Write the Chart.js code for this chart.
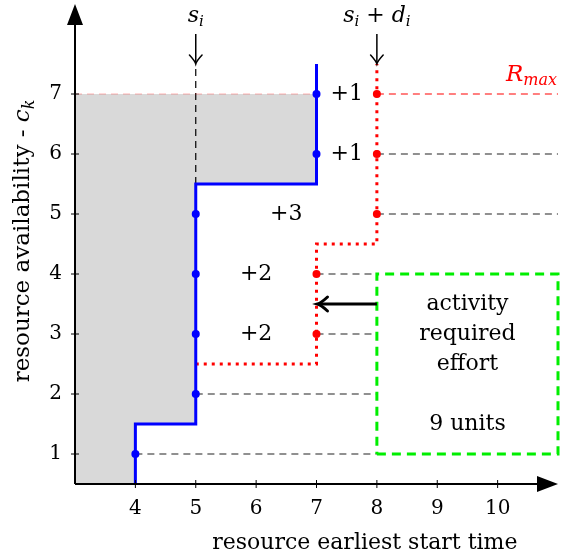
<!DOCTYPE html>
<html>
<head>
<meta charset="utf-8">
<script src="https://cdn.jsdelivr.net/npm/chart.js@4.4.1/dist/chart.umd.min.js"></script>
<style>
  html, body { margin: 0; padding: 0; background: #fff; }
  #wrap { width: 575px; height: 558px; }
</style>
</head>
<body>
<div id="wrap"><canvas id="chart"></canvas></div>
<script>
// axis ticks
const xTicks = [4, 5, 6, 7, 8, 9, 10];
const yTicks = [1, 2, 3, 4, 5, 6, 7];

// resource availability profile (blue step) and its sample points
const blueStepX = [4, 4, 5, 5, 7, 7];
const blueStepY = [0.5, 1.5, 1.5, 5.5, 5.5, 7.5];
const bluePointX = [4, 5, 5, 5, 5, 7, 7];
const bluePointY = [1, 2, 3, 4, 5, 6, 7];

// shaded (used) area, bounded by blue step up to Rmax
const usedEdgeX = [4, 4, 5, 5, 7, 7];
const usedEdgeY = [0.5, 1.5, 1.5, 5.5, 5.5, 7];

// shifted profile (red dotted) and points
const redStepX = [5, 7, 7, 8, 8];
const redStepY = [2.5, 2.5, 4.5, 4.5, 7.5];
const redPointX = [7, 7, 8, 8, 8];
const redPointY = [3, 4, 5, 6, 7];

// dashed guides: level, from, to
const guideY = [1, 2, 3, 4, 5, 6];
const guideFrom = [4, 5, 7, 7, 8, 8];
const guideTo = [8, 8, 8, 8, 11, 11];

const rMax = 7;
const startTime = 5;      // s_i
const endTime = 8;        // s_i + d_i

// activity effort box
const effortBoxX = [8, 11, 11, 8, 8];
const effortBoxY = [1, 1, 4, 4, 1];
const effortLines = ['activity', 'required', 'effort', '9 units'];
const effortLineY = [3.5, 3.0, 2.5, 1.5];

// gain labels
const gainLabels = ['+1', '+1', '+3', '+2', '+2'];
const gainX = [7.5, 7.5, 6.5, 6, 6];
const gainY = [7, 6, 5, 4, 3];

const FONT = "'DejaVu Serif', serif";
const FS = 22;

function pts(xs, ys) { return xs.map((x, i) => ({x: x, y: ys[i]})); }
function lineDs(xs, ys, style) {
  return Object.assign({type: 'line', data: pts(xs, ys), pointRadius: 0, fill: false, tension: 0, borderWidth: 1.2, clip: 8}, style);
}

const datasets = [];
// shaded area
datasets.push(lineDs(usedEdgeX, usedEdgeY, {indexAxis: 'y', fill: {value: 3}, backgroundColor: '#d9d9d9', borderWidth: 0, order: 20}));
// guides
guideY.forEach((g, i) => {
  datasets.push(lineDs([guideFrom[i], guideTo[i]], [g, g], {borderColor: '#222', borderDash: [7, 5], order: 10}));
});
// Rmax line
datasets.push(lineDs([3, 7], [rMax, rMax], {borderColor: 'rgba(255,0,0,0.3)', borderDash: [7, 5], order: 9}));
datasets.push(lineDs([endTime, 11], [rMax, rMax], {borderColor: '#ff0000', borderDash: [7, 5], order: 9}));
// s_i vertical guide and arrows
datasets.push(lineDs([startTime, startTime], [5.5, 7.5], {borderColor: '#000', borderDash: [7, 5], order: 9}));
datasets.push(lineDs([startTime, startTime], [8.0, 7.52], {borderColor: '#000', borderWidth: 1.5, order: 2}));
datasets.push(lineDs([endTime, endTime], [8.0, 7.52], {borderColor: '#000', borderWidth: 1.5, order: 2}));
// effort box
datasets.push(lineDs(effortBoxX, effortBoxY, {borderColor: '#00ee00', borderWidth: 3, borderDash: [9, 6], order: 6}));
// shift arrow
datasets.push(lineDs([8, 7.06], [3.5, 3.5], {borderColor: '#000', borderWidth: 3.2, order: 2}));
// red dotted profile
datasets.push(lineDs(redStepX, redStepY, {borderColor: '#ff0000', borderWidth: 3, borderDash: [3, 5], order: 4}));
datasets.push(lineDs(redPointX, redPointY, {showLine: false, pointRadius: 4, pointBackgroundColor: '#ff0000', pointBorderWidth: 0, order: 3}));
// blue profile
datasets.push(lineDs(blueStepX, blueStepY, {borderColor: '#0000ff', borderWidth: 3, order: 1}));
datasets.push(lineDs(bluePointX, bluePointY, {showLine: false, pointRadius: 4, pointBackgroundColor: '#0000ff', pointBorderWidth: 0, order: 0}));

function rich(ctx, parts, x, y, align, color, size) {
  const big = size || FS, small = Math.round(big * 0.7);
  const f = (p) => (p[1] === 'n' ? '' : 'italic ') + (p[1] === 's' ? small : big) + 'px ' + FONT;
  let w = 0;
  parts.forEach(p => { ctx.font = f(p); w += ctx.measureText(p[0]).width; });
  let cx = align === 'center' ? x - w / 2 : align === 'right' ? x - w : x;
  ctx.fillStyle = color || '#000';
  ctx.textAlign = 'left';
  ctx.textBaseline = 'middle';
  parts.forEach(p => {
    ctx.font = f(p);
    ctx.fillText(p[0], cx, p[1] === 's' ? y + big * 0.28 : y);
    cx += ctx.measureText(p[0]).width;
  });
}

function vHead(ctx, x, y, dir, size, lw) {
  ctx.save();
  ctx.translate(x, y);
  ctx.rotate(dir);
  ctx.lineWidth = lw;
  ctx.strokeStyle = '#000';
  ctx.lineCap = 'round';
  ctx.beginPath();
  ctx.moveTo(-size, -size * 0.7);
  ctx.quadraticCurveTo(-size * 0.35, -size * 0.1, 0, 0);
  ctx.quadraticCurveTo(-size * 0.35, size * 0.1, -size, size * 0.7);
  ctx.stroke();
  ctx.restore();
}

const overlay = {
  id: 'overlay',
  afterDraw(chart) {
    const ctx = chart.ctx, xs = chart.scales.x, ys = chart.scales.y;
    const X = v => xs.getPixelForValue(v), Y = v => ys.getPixelForValue(v);
    const ox = X(3), oy = Y(0.5);
    ctx.save();
    // axes
    ctx.strokeStyle = '#000';
    ctx.fillStyle = '#000';
    ctx.lineWidth = 2;
    ctx.beginPath();
    ctx.moveTo(ox, oy); ctx.lineTo(X(11) - 12, oy);
    ctx.moveTo(ox, oy); ctx.lineTo(ox, Y(8.5) + 12);
    ctx.stroke();
    ctx.beginPath();
    ctx.moveTo(X(11), oy); ctx.lineTo(X(11) - 21, oy - 8); ctx.lineTo(X(11) - 21, oy + 8); ctx.closePath();
    ctx.moveTo(ox, Y(8.5)); ctx.lineTo(ox - 8, Y(8.5) + 21); ctx.lineTo(ox + 8, Y(8.5) + 21); ctx.closePath();
    ctx.fill();
    // tick marks
    ctx.lineWidth = 1;
    ctx.beginPath();
    xTicks.forEach(t => { ctx.moveTo(X(t), oy - 4); ctx.lineTo(X(t), oy + 4); });
    yTicks.forEach(t => { ctx.moveTo(ox - 4, Y(t)); ctx.lineTo(ox + 4, Y(t)); });
    ctx.stroke();
    // arrow heads
    vHead(ctx, X(startTime), Y(7.5), Math.PI / 2, 9, 1.5);
    vHead(ctx, X(endTime), Y(7.5), Math.PI / 2, 9, 1.5);
    vHead(ctx, X(7) + 1, Y(3.5), Math.PI, 10, 3);
    // labels
    rich(ctx, [['s', 'i'], ['i', 's']], X(startTime), Y(8.3), 'center');
    rich(ctx, [['s', 'i'], ['i', 's'], [' + ', 'n'], ['d', 'i'], ['i', 's']], X(endTime), Y(8.3), 'center');
    rich(ctx, [['R', 'i'], ['max', 's']], X(11) - 1, Y(7.32), 'right', '#ff0000', 23);
    gainLabels.forEach((g, i) => rich(ctx, [[g, 'n']], X(gainX[i]), Y(gainY[i]), 'center'));
    effortLines.forEach((t, i) => rich(ctx, [[t, 'n']], X(9.5), Y(effortLineY[i]), 'center'));
    // axis titles
    rich(ctx, [['resource earliest start time', 'n']], X(7.8), chart.chartArea.bottom + 59, 'center');
    ctx.translate(23, Y(4.55));
    ctx.rotate(-Math.PI / 2);
    rich(ctx, [['resource availability - ', 'n'], ['c', 'i'], ['k', 's']], 0, 0, 'center', '#000', 23);
    ctx.restore();
  }
};

new Chart(document.getElementById('chart'), {
  type: 'line',
  data: {datasets: datasets},
  options: {
    responsive: true,
    maintainAspectRatio: false,
    animation: false,
    layout: {padding: {top: 2, right: 17, left: 0, bottom: 0}},
    plugins: {legend: {display: false}, tooltip: {enabled: false}},
    scales: {
      x: {
        type: 'linear', min: 3, max: 11,
        grid: {display: false, drawTicks: false}, border: {display: false},
        afterBuildTicks: s => { s.ticks = xTicks.map(v => ({value: v})); },
        afterFit: s => { s.height = 74; s.paddingLeft = 0; s.paddingRight = 0; },
        ticks: {color: '#000', font: {family: FONT, size: 20}, padding: 13}
      },
      y: {
        type: 'linear', min: 0.5, max: 8.5,
        grid: {display: false, drawTicks: false}, border: {display: false},
        afterBuildTicks: s => { s.ticks = yTicks.map(v => ({value: v})); },
        afterFit: s => { s.width = 75; s.paddingTop = 0; s.paddingBottom = 0; },
        ticks: {color: '#000', font: {family: FONT, size: 20}, padding: 13}
      }
    }
  },
  plugins: [overlay]
});
</script>
</body>
</html>
